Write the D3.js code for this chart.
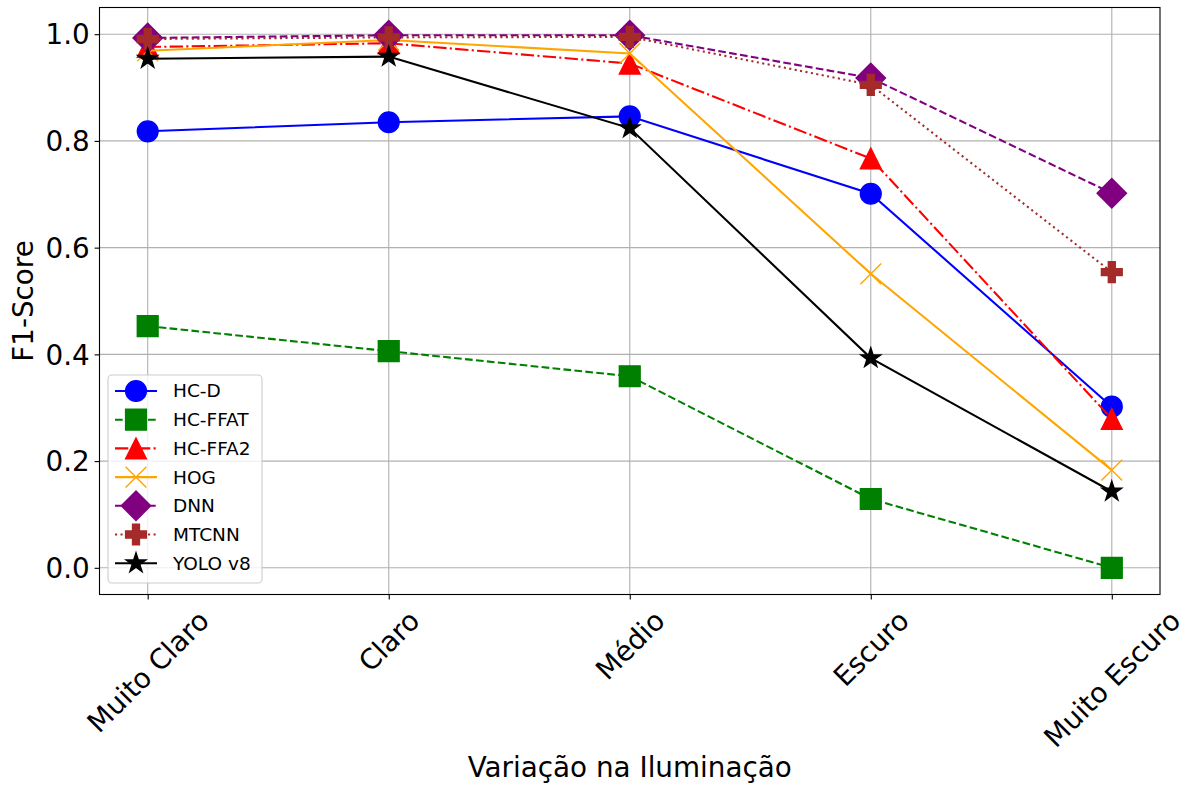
<!DOCTYPE html>
<html>
<head>
<meta charset="utf-8">
<script src="https://cdn.jsdelivr.net/npm/d3@7"></script>
<style>
  html, body { margin: 0; padding: 0; background: #ffffff; }
  svg { display: block; font-family: "DejaVu Sans", sans-serif; }
</style>
</head>
<body>
<svg id="chart" width="1188" height="789"></svg>
<script>
// Illumination levels on the x axis
const categories = ["Muito Claro", "Claro", "Médio", "Escuro", "Muito Escuro"];

// F1-Score per detector at each illumination level
const hcD    = [0.818, 0.835, 0.846, 0.701, 0.302];
const hcFfat = [0.453, 0.406, 0.359, 0.129, 0.000];
const hcFfa2 = [0.976, 0.983, 0.945, 0.767, 0.279];
const hog    = [0.969, 0.989, 0.964, 0.551, 0.183];
const dnn    = [0.993, 0.998, 0.998, 0.918, 0.702];
const mtcnn  = [0.991, 0.994, 0.995, 0.905, 0.554];
const yolo   = [0.954, 0.958, 0.824, 0.393, 0.143];

const seriesNames = ["HC-D", "HC-FFAT", "HC-FFA2", "HOG", "DNN", "MTCNN", "YOLO v8"];
const yTicks = [0.0, 0.2, 0.4, 0.6, 0.8, 1.0];

const xLabel = "Variação na Iluminação";
const yLabel = "F1-Score";

// Visual style per series: colour, dash pattern, marker shape
const lw = 2.08;
const styles = [
  { color: "#0000ff", dash: null,                       marker: "circle" },
  { color: "#008000", dash: [7.7, 3.3],                 marker: "square" },
  { color: "#ff0000", dash: [13.3, 3.3, 2.08, 3.3],     marker: "triangle" },
  { color: "#ffa500", dash: null,                       marker: "x" },
  { color: "#800080", dash: [7.7, 3.3],                 marker: "diamond" },
  { color: "#a52a2a", dash: [2.08, 3.43],               marker: "plus" },
  { color: "#000000", dash: null,                       marker: "star" }
];
const seriesValues = [hcD, hcFfat, hcFfa2, hog, dnn, mtcnn, yolo];

const svg = d3.select("#chart");
const plot = { left: 99.5, right: 1160, top: 7.5, bottom: 594.5 };

const x = d3.scalePoint().domain(categories).range([plot.left, plot.right]).padding(0.2);
const y = d3.scaleLinear().domain([-0.05, 1.05]).range([plot.bottom, plot.top]);

const tickFont = 27.8;
const labelFont = 27.8;
const legendFont = 18.5;
const ms = 20.8;

// Marker path builders (centred at 0,0)
function markerPath(kind, s) {
  const h = s / 2;
  const p = d3.path();
  if (kind === "circle") {
    p.moveTo(h, 0); p.arc(0, 0, h, 0, Math.PI * 2); p.closePath();
  } else if (kind === "square") {
    p.rect(-h, -h, s, s);
  } else if (kind === "triangle") {
    p.moveTo(0, -h); p.lineTo(h, h); p.lineTo(-h, h); p.closePath();
  } else if (kind === "x") {
    p.moveTo(-h, -h); p.lineTo(h, h); p.moveTo(-h, h); p.lineTo(h, -h);
  } else if (kind === "diamond") {
    const d = s * 0.7071;
    p.moveTo(0, -d); p.lineTo(d, 0); p.lineTo(0, d); p.lineTo(-d, 0); p.closePath();
  } else if (kind === "plus") {
    const a = s / 6;
    const pts = [[-a,-h],[a,-h],[a,-a],[h,-a],[h,a],[a,a],[a,h],[-a,h],[-a,a],[-h,a],[-h,-a],[-a,-a]];
    pts.forEach((q, i) => i ? p.lineTo(q[0], q[1]) : p.moveTo(q[0], q[1]));
    p.closePath();
  } else if (kind === "star") {
    const R = h, r = h * 0.381966;
    for (let i = 0; i < 10; i++) {
      const ang = -Math.PI / 2 + i * Math.PI / 5;
      const rad = i % 2 === 0 ? R : r;
      const px = rad * Math.cos(ang), py = rad * Math.sin(ang);
      i ? p.lineTo(px, py) : p.moveTo(px, py);
    }
    p.closePath();
  }
  return p.toString();
}

function drawMarker(g, kind, color, cx, cy) {
  const el = g.append("path")
    .attr("d", markerPath(kind, ms))
    .attr("transform", `translate(${cx},${cy})`);
  if (kind === "x") {
    el.attr("fill", "none").attr("stroke", color).attr("stroke-width", 1.39);
  } else {
    el.attr("fill", color).attr("stroke", color).attr("stroke-width", 1.39)
      .attr("stroke-linejoin", "miter");
  }
}

// Grid lines
const grid = svg.append("g").attr("stroke", "#b0b0b0").attr("stroke-width", 1.1);
categories.forEach(c => {
  grid.append("line").attr("x1", x(c)).attr("x2", x(c)).attr("y1", plot.top).attr("y2", plot.bottom);
});
yTicks.forEach(t => {
  grid.append("line").attr("x1", plot.left).attr("x2", plot.right).attr("y1", y(t)).attr("y2", y(t));
});

// Axes
const xAxis = svg.append("g")
  .attr("transform", `translate(0,${plot.bottom})`)
  .call(d3.axisBottom(x).tickSize(4.9).tickPadding(4.9).tickSizeOuter(0));
const yAxis = svg.append("g")
  .attr("transform", `translate(${plot.left},0)`)
  .call(d3.axisLeft(y).tickValues(yTicks).tickFormat(d3.format(".1f")).tickSize(4.9).tickPadding(4.9).tickSizeOuter(0));

[xAxis, yAxis].forEach(a => {
  a.select(".domain").remove();
  a.selectAll(".tick line").attr("stroke", "#000").attr("stroke-width", 1.1);
  a.selectAll(".tick text").attr("fill", "#000").style("font-size", tickFont + "px")
    .style("font-family", "DejaVu Sans, sans-serif");
});
yAxis.selectAll(".tick text").attr("dy", "0.35em");

// Rotated category labels: rotated box top-centred under each tick
const topY = 4.9 + 4.9;
xAxis.selectAll(".tick text").each(function () {
  const t = d3.select(this);
  const w = this.getComputedTextLength();
  const hgt = tickFont * 1.164;
  const boxH = (w + hgt) * 0.7071;
  const cy = topY + boxH / 2;
  t.attr("x", 0).attr("y", 0).attr("dy", null)
    .attr("text-anchor", "middle")
    .attr("dominant-baseline", "central")
    .attr("transform", `translate(0,${cy}) rotate(-45)`);
});

// Series lines and markers, drawn in legend order
const lineGen = d3.line().x((d, i) => x(categories[i])).y(d => y(d));
const seriesG = svg.append("g");
seriesValues.forEach((vals, k) => {
  const st = styles[k];
  const g = seriesG.append("g");
  g.append("path")
    .datum(vals)
    .attr("d", lineGen)
    .attr("fill", "none")
    .attr("stroke", st.color)
    .attr("stroke-width", lw)
    .attr("stroke-dasharray", st.dash ? st.dash.join(",") : null);
  vals.forEach((v, i) => drawMarker(g, st.marker, st.color, x(categories[i]), y(v)));
});

// Plot frame
svg.append("rect")
  .attr("x", plot.left).attr("y", plot.top)
  .attr("width", plot.right - plot.left).attr("height", plot.bottom - plot.top)
  .attr("fill", "none").attr("stroke", "#000").attr("stroke-width", 1.1);

// Axis titles
svg.append("text")
  .attr("x", (plot.left + plot.right) / 2).attr("y", 777)
  .attr("text-anchor", "middle")
  .style("font-size", labelFont + "px")
  .text(xLabel);
svg.append("text")
  .attr("transform", `translate(33,${(plot.top + plot.bottom) / 2}) rotate(-90)`)
  .attr("text-anchor", "middle")
  .style("font-size", labelFont + "px")
  .text(yLabel);

// Legend
const leg = svg.append("g");
leg.append("rect")
  .attr("x", 108).attr("y", 375).attr("width", 154).attr("height", 208)
  .attr("rx", 4).attr("ry", 4)
  .attr("fill", "#ffffff").attr("fill-opacity", 0.8)
  .attr("stroke", "#cccccc").attr("stroke-width", 1.1);
seriesNames.forEach((name, k) => {
  const st = styles[k];
  const cy = 391 + k * 28.7;
  const g = leg.append("g");
  g.append("line")
    .attr("x1", 115).attr("x2", 157).attr("y1", cy).attr("y2", cy)
    .attr("stroke", st.color).attr("stroke-width", lw)
    .attr("stroke-dasharray", st.dash ? st.dash.join(",") : null);
  drawMarker(g, st.marker, st.color, 136, cy);
  g.append("text")
    .attr("x", 173).attr("y", cy).attr("dy", "0.35em")
    .style("font-size", legendFont + "px")
    .text(name);
});
</script>
</body>
</html>
